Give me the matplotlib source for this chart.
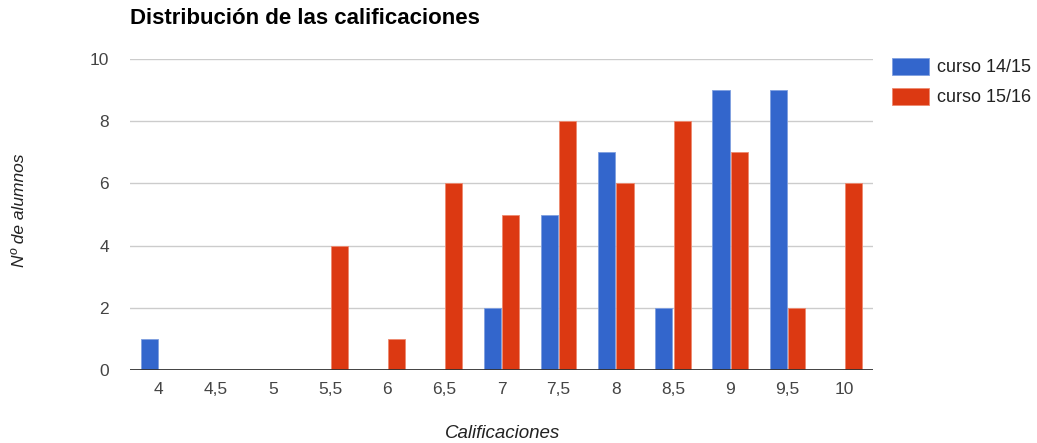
import matplotlib
matplotlib.use("Agg")
import matplotlib.pyplot as plt
import numpy as np
from matplotlib.patches import Rectangle

categories = ["4", "4,5", "5", "5,5", "6", "6,5", "7", "7,5", "8", "8,5", "9", "9,5", "10"]
curso_1415 = [1, 0, 0, 0, 0, 0, 2, 5, 7, 2, 9, 9, 0]
curso_1516 = [0, 0, 0, 4, 1, 6, 5, 8, 6, 8, 7, 2, 6]
series_names = ["curso 14/15", "curso 15/16"]
y_ticks = [0, 2, 4, 6, 8, 10]

BLUE = "#3366CC"
RED = "#DC3912"
FONT = "Liberation Sans"

W, H = 1037, 443
fig = plt.figure(figsize=(W / 100, H / 100), dpi=100)
ax = fig.add_axes([130 / W, 1 - 370 / H, 743 / W, 311 / H])

x = np.arange(len(categories))
bw = 0.30
gap = 0.01
ax.bar(x - bw / 2 - gap, curso_1415, width=bw, color=BLUE,
       edgecolor="#7f9fe0", linewidth=0.6, zorder=3, label=series_names[0])
ax.bar(x + bw / 2 + gap, curso_1516, width=bw, color=RED,
       edgecolor="#ee8a70", linewidth=0.6, zorder=3, label=series_names[1])

ax.set_xlim(-0.5, len(categories) - 0.5)
ax.set_ylim(0, 10)
ax.set_yticks(y_ticks)
ax.set_yticklabels([str(t) for t in y_ticks])
ax.set_xticks(x)
ax.set_xticklabels(categories)

for t in y_ticks[1:]:
    ax.axhline(t, color="#cccccc", linewidth=1, zorder=1)
ax.axhline(0, color="#333333", linewidth=1.3, zorder=4)

for s in ax.spines.values():
    s.set_visible(False)
ax.tick_params(length=0)
ax.tick_params(axis="y", pad=15, labelsize=12.5, labelcolor="#444444")
ax.tick_params(axis="x", pad=8.5, labelsize=12.5, labelcolor="#444444")
for lbl in ax.get_xticklabels() + ax.get_yticklabels():
    lbl.set_fontfamily(FONT)

fig.text(130 / W, 1 - 19 / H, "Distribución de las calificaciones",
         fontsize=16, fontweight="bold", family=FONT, color="#000000",
         ha="left", va="center")
fig.text(20 / W, 1 - 210 / H, "Nº de alumnos", rotation=90, style="italic",
         fontsize=12.5, family=FONT, color="#222222", ha="center", va="center")
fig.text(503 / W, 1 - 433 / H, "Calificaciones", style="italic",
         fontsize=13.5, family=FONT, color="#222222", ha="center", va="center")

# legend drawn as figure patches
for i, (name, col, ec) in enumerate([(series_names[0], BLUE, "#7f9fe0"),
                                     (series_names[1], RED, "#ee8a70")]):
    y0 = 58 + i * 30
    fig.patches.append(Rectangle((892 / W, 1 - (y0 + 17) / H), 37 / W, 17 / H,
                                 transform=fig.transFigure, facecolor=col,
                                 edgecolor=ec, linewidth=0.6))
    fig.text(937 / W, 1 - (y0 + 9) / H, name, fontsize=13, family=FONT,
             color="#222222", ha="left", va="center")

fig.savefig("out.png", dpi=100, facecolor="white")
